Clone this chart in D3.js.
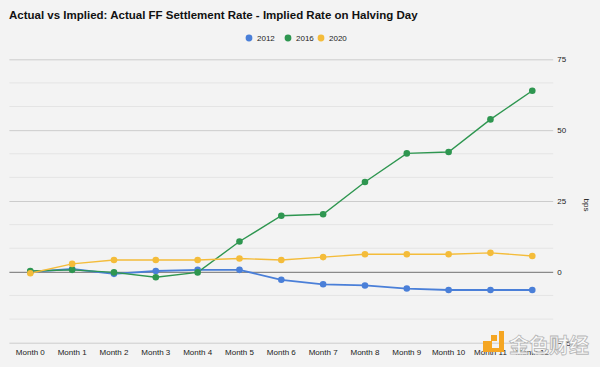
<!DOCTYPE html>
<html>
<head>
<meta charset="utf-8">
<script src="https://cdn.jsdelivr.net/npm/d3@7"></script>
<style>
  html, body { margin: 0; padding: 0; background: #f3f3f3; }
  svg { display: block; }
</style>
</head>
<body>
<svg id="chart" width="600" height="367"></svg>
<script>
const title = "Actual vs Implied: Actual FF Settlement Rate - Implied Rate on Halving Day";
const months = ["Month 0","Month 1","Month 2","Month 3","Month 4","Month 5","Month 6","Month 7","Month 8","Month 9","Month 10","Month 11","Month 12"];
const seriesNames = ["2012", "2016", "2020"];
const values2012 = [0, 1, -0.7, 0.3, 0.7, 0.7, -2.8, -4.4, -4.8, -5.9, -6.4, -6.4, -6.4];
const values2016 = [0.3, 0.7, -0.2, -1.9, -0.2, 10.7, 19.8, 20.3, 31.7, 41.8, 42.3, 53.8, 63.9];
const values2020 = [-0.5, 2.8, 4.2, 4.2, 4.2, 4.7, 4.2, 5.2, 6.2, 6.2, 6.2, 6.7, 5.6];
const yTicks = [-25, 0, 25, 50, 75];
const axisTitle = "bps";
const colors = ["#4a7fd8", "#2e9650", "#f4bc3a"];

const series = [values2012, values2016, values2020].map((v, i) => ({ name: seriesNames[i], values: v, color: colors[i] }));

const svg = d3.select("#chart");
const font = "'Liberation Sans', Arial, sans-serif";
const plotLeft = 9.4, plotRight = 553.2, plotTop = 59.3, plotBottom = 342.7;

svg.append("rect").attr("width", 600).attr("height", 367).attr("fill", "#f3f3f3");

const x = d3.scaleBand().domain(months).range([plotLeft, plotRight]);
const y = d3.scaleLinear().domain([-25, 75]).range([plotBottom, plotTop]);

// minor gridlines
const minor = [];
for (let i = 0; i < yTicks.length - 1; i++) {
  const a = yTicks[i], b = yTicks[i + 1];
  minor.push(a + (b - a) / 3, a + 2 * (b - a) / 3);
}
svg.append("g").selectAll("line").data(minor).join("line")
  .attr("x1", plotLeft).attr("x2", plotRight)
  .attr("y1", d => y(d)).attr("y2", d => y(d))
  .attr("stroke", "#e4e4e4").attr("stroke-width", 1);

// major gridlines via axis
const yAxis = svg.append("g").attr("transform", `translate(${plotRight},0)`)
  .call(d3.axisRight(y).tickValues(yTicks).tickSize(-(plotRight - plotLeft)).tickPadding(5));
yAxis.select(".domain").remove();
yAxis.selectAll(".tick line").attr("stroke", d => d === 0 ? "#8a8a8a" : "#cccccc").attr("stroke-width", d => d === 0 ? 1.2 : 1);
yAxis.selectAll(".tick text").attr("font-family", font).attr("font-size", 8).attr("fill", "#222").attr("x", 4);

// x axis labels
const xAxis = svg.append("g").attr("transform", `translate(0,${plotBottom})`)
  .call(d3.axisBottom(x).tickSize(0).tickPadding(7));
xAxis.select(".domain").remove();
xAxis.selectAll(".tick text").attr("font-family", font).attr("font-size", 8).attr("fill", "#222");

// axis title
svg.append("text").attr("transform", `translate(584,205) rotate(90)`)
  .attr("text-anchor", "middle").attr("font-family", font).attr("font-size", 8).attr("fill", "#222")
  .text(axisTitle);

// lines
const line = d3.line().x((d, i) => x(months[i]) + x.bandwidth() / 2).y(d => y(d));
series.forEach(s => {
  svg.append("path").datum(s.values).attr("d", line)
    .attr("fill", "none").attr("stroke", s.color).attr("stroke-width", s.name === "2012" ? 1.8 : 1.4);
});
series.forEach(s => {
  svg.append("g").selectAll("circle").data(s.values).join("circle")
    .attr("cx", (d, i) => x(months[i]) + x.bandwidth() / 2)
    .attr("cy", d => y(d)).attr("r", 3.3).attr("fill", s.color);
});

// title
svg.append("text").attr("x", 9).attr("y", 18.5)
  .attr("font-family", font).attr("font-weight", "bold").attr("font-size", 11.5).attr("fill", "#111")
  .text(title);

// legend
const legendPos = [[249, 257], [288, 296], [321, 329]];
const lg = svg.append("g");
series.forEach((s, i) => {
  lg.append("circle").attr("cx", legendPos[i][0]).attr("cy", 38).attr("r", 3.4).attr("fill", s.color);
  lg.append("text").attr("x", legendPos[i][1]).attr("y", 41)
    .attr("font-family", font).attr("font-size", 8).attr("fill", "#222").text(s.name);
});

// watermark
const wm = svg.append("g");
wm.append("rect").attr("x", 491).attr("y", 335).attr("width", 6).attr("height", 6).attr("fill", "#f5a623");
wm.append("rect").attr("x", 483).attr("y", 341).attr("width", 9).attr("height", 7).attr("fill", "#f5a623");
wm.append("rect").attr("x", 499).attr("y", 331).attr("width", 5).attr("height", 21).attr("fill", "#f5a623");
wm.append("rect").attr("x", 483).attr("y", 348).attr("width", 21).attr("height", 4).attr("fill", "#f5a623");
wm.append("text").attr("x", 509).attr("y", 353)
  .attr("font-family", "'Noto Sans CJK SC', sans-serif").attr("font-weight", "bold").attr("font-size", 20)
  .attr("fill", "#fbfbfb").attr("stroke", "#b5b5b5").attr("stroke-width", 0.8)
  .text("金色财经");
</script>
</body>
</html>
